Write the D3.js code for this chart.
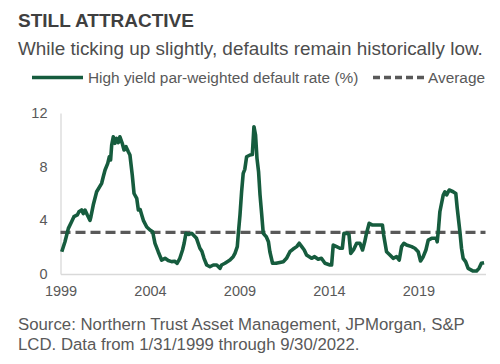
<!DOCTYPE html>
<html><head><meta charset="utf-8">
<script src="https://cdn.jsdelivr.net/npm/d3@7"></script>
<style>body{margin:0;background:#fff}svg{display:block;font-family:"Liberation Sans",Arial,sans-serif}</style>
</head><body><svg id="c" width="500" height="364"></svg>
<script>
const title = "STILL ATTRACTIVE";
const subtitle = "While ticking up slightly, defaults remain historically low.";
const seriesName = "High yield par-weighted default rate (%)";
const avgName = "Average";
const sourceLines = ["Source: Northern Trust Asset Management, JPMorgan, S&P", "LCD. Data from 1/31/1999 through 9/30/2022."];
const yTicks = [0, 4, 8, 12];
const xTicks = [1999, 2004, 2009, 2014, 2019];
const average = 3.1;
const years = [1999.07,1999.25,1999.44,1999.62,1999.75,1999.94,2000.03,2000.18,2000.27,2000.37,2000.5,2000.65,2000.7,2000.83,2001.02,2001.3,2001.39,2001.49,2001.64,2001.73,2001.8,2001.86,2001.95,2002.04,2002.14,2002.23,2002.32,2002.45,2002.55,2002.66,2002.79,2002.88,2003.01,2003.11,2003.26,2003.35,2003.45,2003.54,2003.63,2003.82,2004.0,2004.15,2004.28,2004.46,2004.65,2004.84,2005.02,2005.21,2005.38,2005.52,2005.67,2005.82,2005.91,2006.01,2006.15,2006.33,2006.6,2006.79,2006.9,2007.02,2007.17,2007.35,2007.54,2007.73,2007.91,2008.0,2008.19,2008.47,2008.65,2008.75,2008.88,2008.93,2009.03,2009.12,2009.21,2009.3,2009.4,2009.59,2009.72,2009.81,2009.9,2009.98,2010.07,2010.15,2010.24,2010.33,2010.5,2010.62,2010.7,2010.85,2011.05,2011.45,2011.63,2011.82,2012.0,2012.2,2012.34,2012.48,2012.62,2012.75,2013.03,2013.2,2013.4,2013.58,2013.78,2014.06,2014.15,2014.24,2014.43,2014.61,2014.75,2014.84,2015.03,2015.12,2015.22,2015.37,2015.55,2015.73,2015.88,2016.0,2016.1,2016.25,2016.44,2016.57,2016.75,2016.99,2017.06,2017.22,2017.41,2017.59,2017.78,2017.93,2018.06,2018.19,2018.34,2018.62,2018.8,2018.99,2019.12,2019.27,2019.42,2019.55,2019.74,2020.0,2020.05,2020.11,2020.2,2020.39,2020.48,2020.58,2020.72,2020.94,2021.09,2021.17,2021.32,2021.41,2021.5,2021.64,2021.78,2022.06,2022.25,2022.39,2022.52,2022.67];
const rates = [1.66,2.4,3.4,3.9,4.27,4.4,4.64,4.77,4.5,4.77,4.4,4.0,4.27,5.14,6.13,6.76,7.25,7.75,8.25,8.74,8.5,9.6,10.23,9.74,10.11,9.8,10.23,9.74,9.24,9.49,9.11,8.87,7.38,6.0,5.64,4.77,4.8,4.4,4.0,3.5,3.28,3.15,2.29,1.66,1.04,1.17,1.0,0.92,0.95,0.8,1.17,1.79,2.29,3.03,2.95,3.03,2.66,1.92,1.7,1.17,0.67,0.54,0.67,0.67,0.42,0.67,0.8,1.04,1.29,1.54,2.04,2.9,4.4,6.13,7.5,7.8,8.74,8.87,8.9,10.98,10.36,8.62,7.6,5.9,4.5,3.03,2.78,2.4,1.66,0.8,0.8,0.92,1.17,1.66,1.86,2.04,2.29,2.04,1.79,1.42,1.17,1.29,1.1,1.17,0.8,0.67,0.67,2.16,2.04,1.92,1.92,3.03,3.03,2.95,1.54,1.79,2.29,2.29,1.79,2.4,3.03,3.78,3.65,3.65,3.65,3.65,2.9,1.66,1.42,1.17,1.29,1.04,2.04,2.29,2.16,2.04,1.92,1.66,0.97,1.29,1.79,2.53,2.66,2.66,2.4,3.15,4.64,5.89,6.13,5.89,6.26,6.13,6.0,4.9,3.15,1.92,1.17,0.92,0.42,0.22,0.22,0.42,0.8,0.84];

const svg = d3.select("#c");
const x = d3.scaleLinear().domain([1999, 2022.75]).range([60.5, 485.5]);
const y = d3.scaleLinear().domain([0, 12]).range([274, 113]);

svg.append("text").attr("x",18).attr("y",27).attr("font-size",19).attr("font-weight","bold").attr("fill","#3f3f3f").text(title);
svg.append("text").attr("x",18).attr("y",54.5).attr("font-size",18.9).attr("fill","#4d4d4d").text(subtitle);

// legend
svg.append("line").attr("x1",32).attr("x2",83).attr("y1",77.5).attr("y2",77.5).attr("stroke","#165c3e").attr("stroke-width",3.5);
svg.append("text").attr("x",88).attr("y",82.5).attr("font-size",15.4).attr("fill","#595959").text(seriesName);
svg.append("line").attr("x1",373).attr("x2",424).attr("y1",77.5).attr("y2",77.5).attr("stroke","#595959").attr("stroke-width",3.5).attr("stroke-dasharray","7,4");
svg.append("text").attr("x",428).attr("y",82.5).attr("font-size",15.4).attr("fill","#595959").text(avgName);

// axes
const ya = svg.append("g").attr("transform","translate(60.5,0)").call(d3.axisLeft(y).tickValues(yTicks).tickSize(0).tickPadding(13));
ya.select(".domain").attr("stroke","#d9d9d9").attr("stroke-width",1.3);
ya.selectAll("text").attr("font-size",14.5).attr("fill","#595959").attr("font-family","Liberation Sans, Arial, sans-serif");
const xa = svg.append("g").attr("transform","translate(0,274)").call(d3.axisBottom(x).tickValues(xTicks).tickFormat(d3.format("d")).tickSize(0).tickPadding(12));
xa.select(".domain").attr("stroke","#d9d9d9").attr("stroke-width",1.3);
xa.selectAll("text").attr("font-size",14.5).attr("fill","#595959").attr("font-family","Liberation Sans, Arial, sans-serif");

// average
svg.append("line").attr("x1",x(1999)).attr("x2",x(2022.75)).attr("y1",y(average)).attr("y2",y(average))
  .attr("stroke","#595959").attr("stroke-width",3.4).attr("stroke-dasharray","10,5");

// series
const data = years.map((d,i)=>({t:d,v:rates[i]}));
svg.append("path").datum(data).attr("fill","none").attr("stroke","#165c3e").attr("stroke-width",3.6).attr("stroke-linejoin","round")
  .attr("d", d3.line().x(d=>x(d.t)).y(d=>y(d.v)));

sourceLines.forEach((s,i)=>svg.append("text").attr("x",18).attr("y",330+i*20).attr("font-size",16.8).attr("fill","#595959").text(s));
</script></body></html>
